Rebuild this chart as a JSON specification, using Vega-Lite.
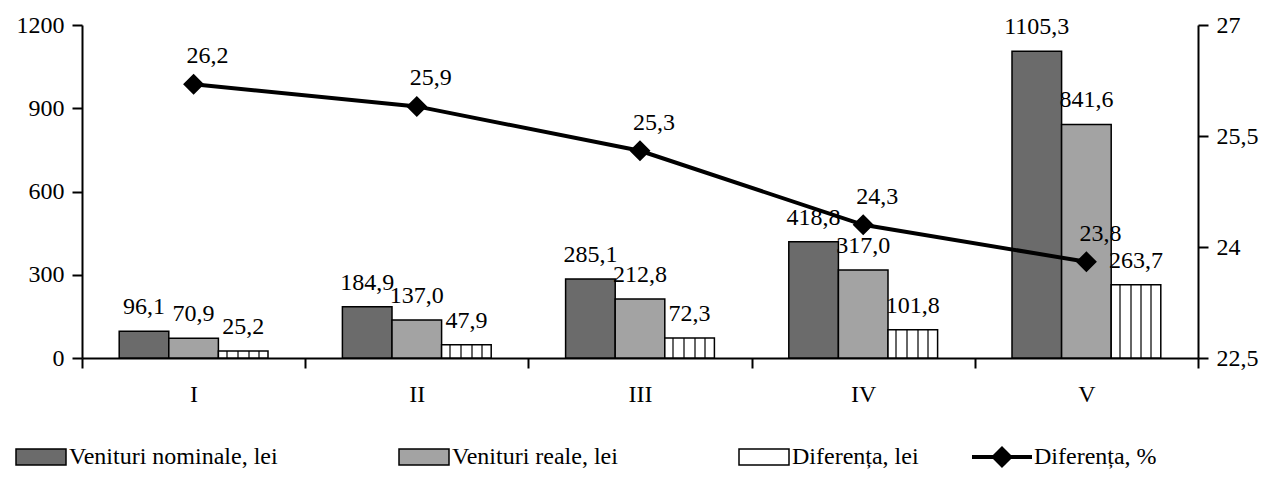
{
  "$schema": "https://vega.github.io/schema/vega-lite/v6.json",
  "width": 1116,
  "height": 333,
  "autosize": "none",
  "padding": {"left": 82, "top": 25, "right": 90, "bottom": 121},
  "background": "white",
  "config": {
    "locale": {"number": {"decimal": ",", "thousands": "", "grouping": [3], "currency": ["", ""]}},
    "font": "Liberation Serif",
    "view": {"stroke": null},
    "axis": {"labelFont": "Liberation Serif", "labelFontSize": 24, "labelColor": "black", "domainColor": "black", "tickColor": "black", "domainWidth": 2, "tickWidth": 2, "tickSize": 10, "grid": false, "title": null, "labelPadding": 8},
    "legend": {"labelFont": "Liberation Serif", "labelFontSize": 24, "labelColor": "black", "title": null},
    "text": {"font": "Liberation Serif", "fontSize": 24, "color": "black"}
  },
  "datasets": {
    "bars": [
      {"grupa": "I", "serie": "Venituri nominale, lei", "valoare": 96.1},
      {"grupa": "I", "serie": "Venituri reale, lei", "valoare": 70.9},
      {"grupa": "I", "serie": "Diferența, lei", "valoare": 25.2},
      {"grupa": "II", "serie": "Venituri nominale, lei", "valoare": 184.9},
      {"grupa": "II", "serie": "Venituri reale, lei", "valoare": 137.0},
      {"grupa": "II", "serie": "Diferența, lei", "valoare": 47.9},
      {"grupa": "III", "serie": "Venituri nominale, lei", "valoare": 285.1},
      {"grupa": "III", "serie": "Venituri reale, lei", "valoare": 212.8},
      {"grupa": "III", "serie": "Diferența, lei", "valoare": 72.3},
      {"grupa": "IV", "serie": "Venituri nominale, lei", "valoare": 418.8},
      {"grupa": "IV", "serie": "Venituri reale, lei", "valoare": 317.0},
      {"grupa": "IV", "serie": "Diferența, lei", "valoare": 101.8},
      {"grupa": "V", "serie": "Venituri nominale, lei", "valoare": 1105.3},
      {"grupa": "V", "serie": "Venituri reale, lei", "valoare": 841.6},
      {"grupa": "V", "serie": "Diferența, lei", "valoare": 263.7}
    ],
    "linie": [
      {"grupa": "I", "serie": "Diferența, %", "procent": 26.2},
      {"grupa": "II", "serie": "Diferența, %", "procent": 25.9},
      {"grupa": "III", "serie": "Diferența, %", "procent": 25.3},
      {"grupa": "IV", "serie": "Diferența, %", "procent": 24.3},
      {"grupa": "V", "serie": "Diferența, %", "procent": 23.8}
    ]
  },
  "layer": [
    {
      "data": {"name": "bars"},
      "encoding": {
        "x": {"field": "grupa", "type": "nominal", "sort": ["I", "II", "III", "IV", "V"], "scale": {"paddingInner": 0, "paddingOuter": 0}, "axis": {"tickBand": "extent", "labelAngle": 0, "labelPadding": 14}},
        "xOffset": {"field": "serie", "type": "nominal", "sort": ["Venituri nominale, lei", "Venituri reale, lei", "Diferența, lei"], "scale": {"paddingInner": 0, "paddingOuter": 0.75}},
        "y": {"field": "valoare", "type": "quantitative", "scale": {"domain": [0, 1200], "nice": false}, "axis": {"orient": "left", "values": [0, 300, 600, 900, 1200]}}
      },
      "layer": [
        {
          "mark": {"type": "bar", "stroke": "black", "strokeWidth": 1.5},
          "encoding": {
            "fill": {
              "field": "serie",
              "type": "nominal",
              "condition": {"test": "datum.serie === 'Diferența, lei'", "value": {"gradient": "linear", "x1": 0, "x2": 1, "y1": 0, "y2": 0, "stops": [
                {"offset": 0, "color": "#ffffff"}, {"offset": 0.15, "color": "#ffffff"}, {"offset": 0.15, "color": "#666666"}, {"offset": 0.19, "color": "#666666"}, {"offset": 0.19, "color": "#ffffff"},
                {"offset": 0.37, "color": "#ffffff"}, {"offset": 0.37, "color": "#666666"}, {"offset": 0.41, "color": "#666666"}, {"offset": 0.41, "color": "#ffffff"},
                {"offset": 0.59, "color": "#ffffff"}, {"offset": 0.59, "color": "#666666"}, {"offset": 0.63, "color": "#666666"}, {"offset": 0.63, "color": "#ffffff"},
                {"offset": 0.79, "color": "#ffffff"}, {"offset": 0.79, "color": "#666666"}, {"offset": 0.83, "color": "#666666"}, {"offset": 0.83, "color": "#ffffff"}, {"offset": 1, "color": "#ffffff"}
              ]}},
              "scale": {"domain": ["Venituri nominale, lei", "Venituri reale, lei", "Diferența, lei"], "range": ["#6b6b6b", "#a3a3a3", "#ffffff"]},
              "legend": {
                "orient": "none", "legendX": -67, "legendY": 406, "direction": "horizontal", "title": null,
                "symbolSize": 2500, "symbolType": "M-1,-0.32H1V0.32H-1Z",
                "symbolStrokeColor": "black", "symbolStrokeWidth": 1.5,
                "labelFont": "Liberation Serif", "labelFontSize": 24, "labelColor": "black", "labelOffset": 2, "columnPadding": 118, "labelLimit": 400,
                "encode": {"symbols": {"update": {"stroke": {"value": "black"}, "strokeWidth": {"value": 1.5}, "strokeOpacity": {"value": 1}, "opacity": {"value": 1}}}}
              }
            }
          }
        },
        {
          "mark": {"type": "text", "baseline": "bottom", "dy": -12, "font": "Liberation Serif", "fontSize": 24},
          "encoding": {"text": {"field": "valoare", "type": "quantitative", "format": ".1f"}}
        }
      ]
    },
    {
      "data": {"name": "linie"},
      "encoding": {
        "x": {"field": "grupa", "type": "nominal", "sort": ["I", "II", "III", "IV", "V"]},
        "y": {"field": "procent", "type": "quantitative", "scale": {"domain": [22.5, 27], "nice": false, "zero": false}, "axis": {"orient": "right", "values": [22.5, 24, 25.5, 27], "format": ".3~g"}}
      },
      "layer": [
        {
          "mark": {"type": "line", "strokeWidth": 4, "point": {"shape": "diamond", "size": 330, "filled": true, "fill": "black"}},
          "encoding": {
            "stroke": {
              "field": "serie", "type": "nominal",
              "scale": {"domain": ["Diferența, %"], "range": ["#000000"]},
              "legend": {
                "orient": "none", "legendX": 888, "legendY": 400, "title": null,
                "symbolSize": 3600, "symbolType": "M-1,0H-0.27L0,-0.27L0.27,0H1M0.27,0L0,0.27L-0.27,0Z",
                "symbolFillColor": "black", "symbolStrokeColor": "black", "symbolStrokeWidth": 4,
                "labelFont": "Liberation Serif", "labelFontSize": 24, "labelColor": "black", "labelOffset": 0, "labelLimit": 400,
                "encode": {"symbols": {"update": {"fill": {"value": "black"}, "stroke": {"value": "black"}, "strokeWidth": {"value": 4}, "opacity": {"value": 1}}}}
              }
            }
          }
        },
        {
          "mark": {"type": "text", "baseline": "bottom", "dx": 14, "dy": -16, "font": "Liberation Serif", "fontSize": 24},
          "encoding": {"text": {"field": "procent", "type": "quantitative", "format": ".1f"}}
        }
      ]
    }
  ],
  "resolve": {"scale": {"y": "independent"}, "axis": {"y": "independent"}}
}
